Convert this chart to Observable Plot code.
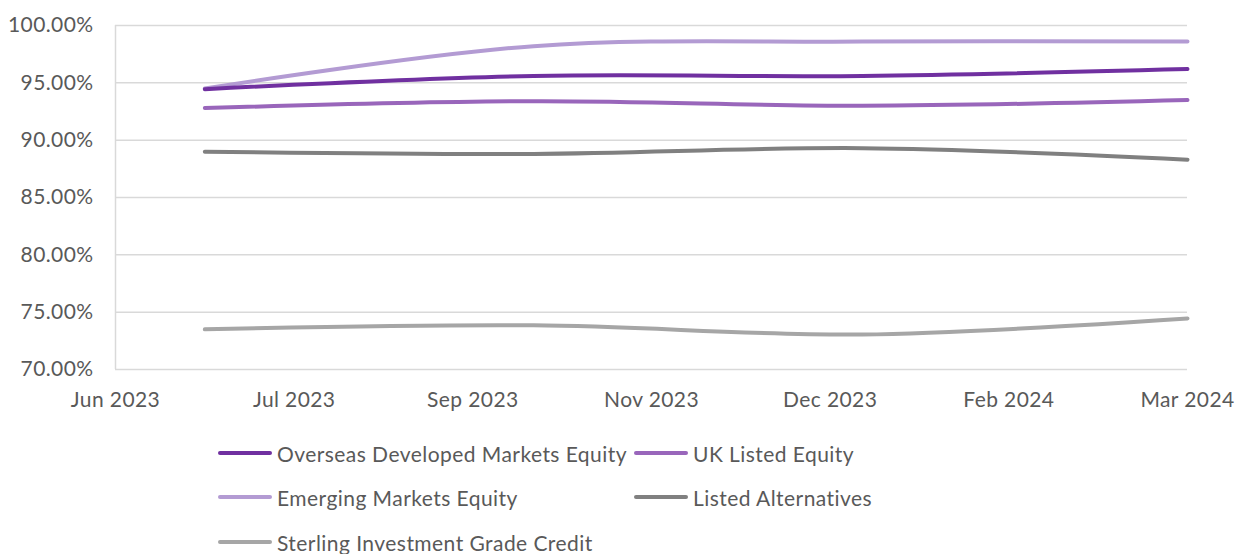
<!DOCTYPE html>
<html>
<head>
<meta charset="utf-8">
<script src="https://cdn.jsdelivr.net/npm/d3@7"></script>
<script src="https://cdn.jsdelivr.net/npm/@observablehq/plot@0.6"></script>
<style>
  html, body { margin: 0; padding: 0; background: #fff; }
  body { width: 1235px; height: 554px; overflow: hidden; font-family: Lato, "Liberation Sans", sans-serif; }
  #chart { position: absolute; left: 0; top: 0; }
  #legend { position: absolute; left: 0; top: 0; width: 1235px; height: 554px; pointer-events: none; }
  .item { position: absolute; display: flex; align-items: center; font-size: 21px; letter-spacing: 0.45px; color: #595959; white-space: nowrap; }
  .swatch { width: 54px; height: 4px; margin-right: 5px; border-radius: 2px; }
</style>
</head>
<body>
<div id="chart"></div>
<div id="legend"></div>
<script>
// ---- data ----
const dates = ["2023-06-30", "2023-09-30", "2023-12-31", "2024-03-31"];
const seriesNames = [
  "Overseas Developed Markets Equity",
  "UK Listed Equity",
  "Emerging Markets Equity",
  "Listed Alternatives",
  "Sterling Investment Grade Credit"
];
const overseasDeveloped = [94.45, 95.6, 95.6, 96.2];
const ukListed = [92.8, 93.4, 93.0, 93.5];
const emergingMarkets = [94.5, 98.2, 98.6, 98.6];
const listedAlternatives = [89.0, 88.8, 89.3, 88.3];
const sterlingCredit = [73.5, 73.85, 73.05, 74.45];
const seriesColors = ["#7030A0", "#9966BB", "#B39BD3", "#808080", "#A6A6A6"];
const xTickDates = ["2023-06-05", "2023-07-25", "2023-09-13", "2023-11-02", "2023-12-22", "2024-02-10", "2024-03-31"];
const yTicks = [70, 75, 80, 85, 90, 95, 100];

const values = [overseasDeveloped, ukListed, emergingMarkets, listedAlternatives, sterlingCredit];
const parse = d3.utcParse("%Y-%m-%d");
const rows = [];
// draw order: emerging first so darker lines sit on top
const drawOrder = [2, 0, 1, 3, 4];
for (const i of drawOrder) {
  values[i].forEach((v, j) => rows.push({series: seriesNames[i], date: parse(dates[j]), value: v}));
}
const xTicks = xTickDates.map(parse);

const grid = "#D9D9D9";
const chart = Plot.plot({
  width: 1235,
  height: 420,
  marginTop: 25,
  marginBottom: 51,
  marginLeft: 115,
  marginRight: 48,
  style: {fontFamily: "Lato, 'Liberation Sans', sans-serif", fontSize: "21px", letterSpacing: "0.4px", color: "#595959", background: "#fff"},
  x: {type: "utc", domain: [xTicks[0], xTicks[xTicks.length - 1]]},
  y: {domain: [yTicks[0], yTicks[yTicks.length - 1]]},
  color: {domain: seriesNames, range: seriesColors},
  marks: [
    Plot.ruleY(yTicks, {stroke: grid, strokeWidth: 1.5}),
    Plot.ruleX([xTicks[0]], {stroke: grid, strokeWidth: 1.5}),
    Plot.axisY({ticks: yTicks, tickSize: 0, tickPadding: 22, tickFormat: d => d.toFixed(2) + "%", label: null, fill: "#595959"}),
    Plot.axisX({ticks: xTicks, tickSize: 0, tickPadding: 23, tickFormat: d3.utcFormat("%b %Y"), label: null, fill: "#595959"}),
    Plot.line(rows, {x: "date", y: "value", z: "series", stroke: "series", strokeWidth: 4, curve: "catmull-rom", strokeLinecap: "round"})
  ]
});
document.getElementById("chart").appendChild(chart);

// legend
const legendPos = [
  {left: 218, top: 453}, {left: 634, top: 453},
  {left: 218, top: 497}, {left: 634, top: 497},
  {left: 218, top: 542}
];
const legend = document.getElementById("legend");
seriesNames.forEach((name, i) => {
  const item = document.createElement("div");
  item.className = "item";
  item.style.left = legendPos[i].left + "px";
  item.style.top = (legendPos[i].top - 12) + "px";
  item.style.height = "24px";
  const sw = document.createElement("span");
  sw.className = "swatch";
  sw.style.background = seriesColors[i];
  const label = document.createElement("span");
  label.textContent = name;
  item.appendChild(sw);
  item.appendChild(label);
  legend.appendChild(item);
});
</script>
</body>
</html>
